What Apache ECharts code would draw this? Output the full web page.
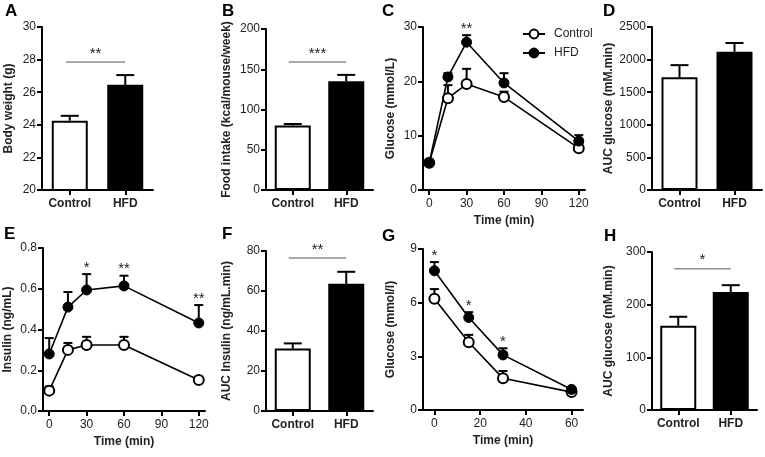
<!DOCTYPE html>
<html><head><meta charset="utf-8">
<script src="https://cdn.jsdelivr.net/npm/echarts@6/dist/echarts.min.js"></script>
<style>html,body{margin:0;padding:0;background:#fff}#c{width:765px;height:457px}</style>
</head><body><div id="c"></div>
<script>
// ---------- data ----------
const groups = ['Control', 'HFD'];
// A: body weight (g)
const bodyWeight = [24.25, 26.45];
const bodyWeightSem = [0.3, 0.6];
const bodyWeightSig = [27.85, '**'];
// B: food intake
const foodIntake = [80, 135];
const foodIntakeSem = [2, 8];
const foodIntakeSig = [159, '***'];
// C: GTT glucose
const gttTime = [0, 15, 30, 60, 120];
const gttControl = [5.0, 16.9, 19.5, 17.1, 7.7];
const gttControlSem = [0.3, 2.4, 2.8, 1.0, 0.8];
const gttHFD = [5.0, 20.8, 27.2, 19.7, 9.0];
const gttHFDSem = [0.3, 0.7, 1.3, 1.8, 1.1];
const gttStars = ['', '', '**', '', ''];
// D: AUC glucose (GTT)
const aucGlucoseGtt = [1730, 2120];
const aucGlucoseGttSem = [185, 135];
// E: insulin
const insTime = [0, 15, 30, 60, 120];
const insControl = [0.10, 0.30, 0.324, 0.324, 0.152];
const insControlSem = [0.02, 0.034, 0.04, 0.04, 0.016];
const insHFD = [0.28, 0.51, 0.594, 0.614, 0.432];
const insHFDSem = [0.078, 0.074, 0.078, 0.05, 0.088];
const insStars = ['', '', '*', '**', '**'];
// F: AUC insulin
const aucInsulin = [31.2, 63.6];
const aucInsulinSem = [2.6, 6.0];
const aucInsulinSig = [76.5, '**'];
// G: ITT glucose
const ittTime = [0, 15, 30, 60];
const ittControl = [6.22, 3.79, 1.77, 1.0];
const ittControlSem = [0.54, 0.41, 0.41, 0.1];
const ittHFD = [7.78, 5.17, 3.08, 1.15];
const ittHFDSem = [0.49, 0.30, 0.37, 0.1];
const ittStars = ['*', '*', '*', ''];
// H: AUC glucose (ITT)
const aucGlucoseItt = [160, 224];
const aucGlucoseIttSem = [17, 13];
const aucGlucoseIttSig = [268, '*'];
// tick values
const timeTicks120 = [0, 30, 60, 90, 120];
const timeTicks60 = [0, 20, 40, 60];

// ---------- styling helpers ----------
const FONT = 'Liberation Sans, Arial, sans-serif';
const TXT = '#222';
const axisLineStyle = {show: true, onZero: false, lineStyle: {color: '#000', width: 2}};
const tickStyle = {show: true, length: 5, lineStyle: {color: '#000', width: 2}};

const grids = [
  {left: 42, top: 27, width: 111, height: 163},   // A
  {left: 266, top: 29, width: 107, height: 161},  // B
  {left: 423, top: 27, width: 162, height: 163},  // C
  {left: 652, top: 27, width: 110, height: 163},  // D
  {left: 43, top: 248, width: 162, height: 163},  // E
  {left: 266, top: 251, width: 107, height: 160}, // F
  {left: 423, top: 249, width: 160, height: 161}, // G
  {left: 652, top: 252, width: 105, height: 158}  // H
].map(g => Object.assign({outerBoundsMode: 'none', containLabel: false}, g));

function catX(gi) {
  return {type: 'category', gridIndex: gi, data: groups,
    axisLine: axisLineStyle, axisTick: Object.assign({alignWithLabel: true, interval: 0}, tickStyle),
    axisLabel: {interval: 0, color: TXT, fontFamily: FONT, fontSize: 12, fontWeight: 'bold', margin: 8}};
}
function timeX(gi, min, max, ticks) {
  return {type: 'value', gridIndex: gi, min, max,
    axisLine: axisLineStyle, axisTick: Object.assign({customValues: ticks}, tickStyle),
    axisLabel: {customValues: ticks, color: TXT, fontFamily: FONT, fontSize: 12, margin: 8},
    splitLine: {show: false},
    name: 'Time (min)', nameLocation: 'middle', nameGap: 25,
    nameTextStyle: {color: TXT, fontFamily: FONT, fontSize: 12, fontWeight: 'bold'}};
}
function valY(gi, min, max, interval, name, gap, fmt) {
  return {type: 'value', gridIndex: gi, min, max, interval,
    axisLine: axisLineStyle, axisTick: tickStyle,
    axisLabel: {color: TXT, fontFamily: FONT, fontSize: 12, margin: 6, formatter: fmt || (v => String(v))},
    splitLine: {show: false},
    name, nameLocation: 'middle', nameRotate: 90, nameGap: gap,
    nameTextStyle: {color: TXT, fontFamily: FONT, fontSize: 12, fontWeight: 'bold'}};
}

function barSeries(gi, vals) {
  return {type: 'bar', xAxisIndex: gi, yAxisIndex: gi, barWidth: 36, z: 2,
    data: vals.map((v, i) => ({value: v, itemStyle: {color: i === 0 ? '#fff' : '#000'}})),
    itemStyle: {borderColor: '#000', borderWidth: 2}};
}
function errSeries(gi, xs, means, sems, capW, z) {
  return {type: 'custom', xAxisIndex: gi, yAxisIndex: gi, z,
    data: means.map((m, i) => [xs[i], m, sems[i]]),
    encode: {x: 0, y: 1},
    renderItem(params, api) {
      const x = api.value(0), m = api.value(1), s = api.value(2);
      const p0 = api.coord([x, m]), p1 = api.coord([x, m + s]);
      return {type: 'group', children: [
        {type: 'line', shape: {x1: p0[0], y1: p0[1], x2: p1[0], y2: p1[1]}, style: {stroke: '#000', lineWidth: 2}},
        {type: 'line', shape: {x1: p1[0] - capW / 2, y1: p1[1], x2: p1[0] + capW / 2, y2: p1[1]}, style: {stroke: '#000', lineWidth: 2}}
      ]};
    }};
}
function sigSeries(gi, sig) {
  return {type: 'custom', xAxisIndex: gi, yAxisIndex: gi, z: 5,
    data: [[0, sig[0]]], encode: {x: 0, y: 1},
    renderItem(params, api) {
      const p0 = api.coord([0, api.value(1)]);
      const p1 = api.coord([1, api.value(1)]);
      return {type: 'group', children: [
        {type: 'line', shape: {x1: p0[0] - 4, y1: p0[1], x2: p1[0], y2: p1[1]}, style: {stroke: '#555', lineWidth: 1}},
        {type: 'text', style: {text: sig[1], x: (p0[0] - 4 + p1[0]) / 2, y: p0[1] - 1, align: 'center', verticalAlign: 'bottom', font: '15px ' + FONT, fill: TXT}}
      ]};
    }};
}
function starSeries(gi, xs, means, sems, stars) {
  return {type: 'custom', xAxisIndex: gi, yAxisIndex: gi, z: 5,
    data: means.map((m, i) => [xs[i], m + sems[i]]), encode: {x: 0, y: 1},
    renderItem(params, api) {
      const t = stars[params.dataIndex];
      if (!t) return null;
      const p = api.coord([api.value(0), api.value(1)]);
      return {type: 'text', style: {text: t, x: p[0], y: p[1] + 1, align: 'center', verticalAlign: 'bottom', font: '15px ' + FONT, fill: TXT}};
    }};
}
function lineSeries(gi, name, xs, vals, open) {
  return {type: 'line', name, xAxisIndex: gi, yAxisIndex: gi, z: 4,
    data: vals.map((v, i) => [xs[i], v]),
    symbol: 'circle', symbolSize: 10,
    itemStyle: open ? {color: '#fff', borderColor: '#000', borderWidth: 2} : {color: '#000', borderColor: '#000', borderWidth: 1},
    lineStyle: {color: '#000', width: 1.6}, emphasis: {disabled: true}};
}

const letters = [['A', 5, 3], ['B', 222, 3], ['C', 382, 3], ['D', 603, 3],
                 ['E', 4, 226], ['F', 222, 226], ['G', 382, 228], ['H', 604, 228]];

const option = {
  animation: false,
  backgroundColor: '#fff',
  grid: grids,
  xAxis: [catX(0), catX(1), timeX(2, -5, 125, timeTicks120), catX(3),
          timeX(4, -5, 125, timeTicks120), catX(5), timeX(6, -5, 65, timeTicks60), catX(7)],
  yAxis: [
    valY(0, 20, 30, 2, 'Body weight (g)', 27),
    valY(1, 0, 200, 50, 'Food intake (kcal/mouse/week)', 33),
    valY(2, 0, 30, 10, 'Glucose (mmol/L)', 26),
    valY(3, 0, 2500, 500, 'AUC glucose (mM.min)', 37),
    valY(4, 0, 0.8, 0.2, 'Insulin (ng/mL)', 29, v => v.toFixed(1)),
    valY(5, 0, 80, 20, 'AUC Insulin (ng/mL.min)', 33),
    valY(6, 0, 9, 3, 'Glucose (mmol/l)', 26),
    valY(7, 0, 300, 100, 'AUC glucose (mM.min)', 37)
  ],
  legend: {
    data: ['Control', 'HFD'], orient: 'vertical', left: 517, top: 23,
    itemWidth: 22, itemHeight: 11, itemGap: 7,
    textStyle: {color: TXT, fontFamily: FONT, fontSize: 12, padding: [0, 0, 0, 4]}
  },
  graphic: letters.map(l => ({type: 'text', left: l[1], top: l[2],
    style: {text: l[0], font: 'bold 17px ' + FONT, fill: '#000'}})),
  series: [
    barSeries(0, bodyWeight), errSeries(0, [0, 1], bodyWeight, bodyWeightSem, 18, 3), sigSeries(0, bodyWeightSig),
    barSeries(1, foodIntake), errSeries(1, [0, 1], foodIntake, foodIntakeSem, 18, 3), sigSeries(1, foodIntakeSig),
    errSeries(2, gttTime, gttControl, gttControlSem, 9, 3), errSeries(2, gttTime, gttHFD, gttHFDSem, 9, 3),
    lineSeries(2, 'Control', gttTime, gttControl, true), lineSeries(2, 'HFD', gttTime, gttHFD, false),
    starSeries(2, gttTime, gttHFD, gttHFDSem, gttStars),
    barSeries(3, aucGlucoseGtt), errSeries(3, [0, 1], aucGlucoseGtt, aucGlucoseGttSem, 18, 3),
    errSeries(4, insTime, insControl, insControlSem, 9, 3), errSeries(4, insTime, insHFD, insHFDSem, 9, 3),
    lineSeries(4, 'Control', insTime, insControl, true), lineSeries(4, 'HFD', insTime, insHFD, false),
    starSeries(4, insTime, insHFD, insHFDSem, insStars),
    barSeries(5, aucInsulin), errSeries(5, [0, 1], aucInsulin, aucInsulinSem, 18, 3), sigSeries(5, aucInsulinSig),
    errSeries(6, ittTime, ittControl, ittControlSem, 9, 3), errSeries(6, ittTime, ittHFD, ittHFDSem, 9, 3),
    lineSeries(6, 'Control', ittTime, ittControl, true), lineSeries(6, 'HFD', ittTime, ittHFD, false),
    starSeries(6, ittTime, ittHFD, ittHFDSem, ittStars),
    barSeries(7, aucGlucoseItt), errSeries(7, [0, 1], aucGlucoseItt, aucGlucoseIttSem, 18, 3), sigSeries(7, aucGlucoseIttSig)
  ]
};
const chart = echarts.init(document.getElementById('c'), null, {renderer: 'canvas'});
chart.setOption(option);
</script>
</body></html>
